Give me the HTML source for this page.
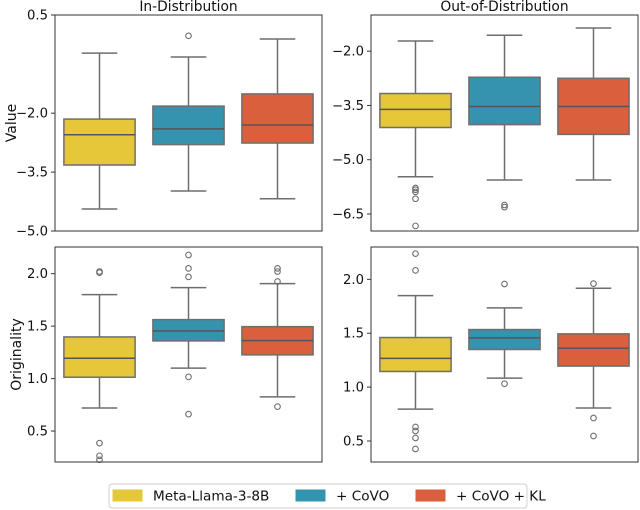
<!DOCTYPE html>
<html><head><meta charset="utf-8"><style>
body{margin:0;background:#fff;}
svg{display:block;font-family:"DejaVu Sans","Liberation Sans",sans-serif;}
</style></head><body>
<svg id="c" width="640" height="510"></svg>
<script>
const groups=["Meta-Llama-3-8B","+ CoVO","+ CoVO + KL"];
const colors=["#e6c73a","#3494b0","#d95f3d"];
// stats: [low whisker, q1, median, q3, high whisker]
const idValue=[[-4.44,-3.32,-2.55,-2.15,-0.47],[-3.98,-2.80,-2.40,-1.82,-0.57],[-4.18,-2.76,-2.30,-1.51,-0.11]];
const idValueOut=[[],[-0.03],[]];
const oodValue=[[-5.47,-4.11,-3.61,-3.17,-1.72],[-5.56,-4.03,-3.53,-2.72,-1.56],[-5.56,-4.30,-3.53,-2.75,-1.36]];
const oodValueOut=[[-5.78,-5.83,-5.89,-6.08,-6.83],[-6.25,-6.31],[]];
const idOrig=[[0.72,1.013,1.194,1.397,1.80],[1.10,1.359,1.454,1.562,1.867],[0.826,1.226,1.362,1.495,1.905]];
const idOrigOut=[[2.02,2.01,0.385,0.264,0.226],[2.178,2.05,1.969,1.016,0.661],[2.05,2.02,1.925,0.733]];
const oodOrig=[[0.796,1.145,1.266,1.46,1.849],[1.083,1.349,1.457,1.534,1.735],[0.806,1.195,1.361,1.494,1.917]];
const oodOrigOut=[[2.238,2.083,0.63,0.593,0.528,0.426],[1.957,1.031],[1.96,0.713,0.546]];
const panels=[
 {name:"in-distribution-value",x0:55,x1:322,y0:15,y1:231,vmin:-5.0,vmax:0.5,ticks:[0.5,-2.0,-3.5,-5.0],dec:1,stats:idValue,out:idValueOut,title:"In-Distribution",ylabel:"Value"},
 {name:"out-of-distribution-value",x0:371,x1:638,y0:15,y1:231,vmin:-6.97,vmax:-1.0,ticks:[-2.0,-3.5,-5.0,-6.5],dec:1,stats:oodValue,out:oodValueOut,title:"Out-of-Distribution"},
 {name:"in-distribution-originality",x0:55,x1:322,y0:247,y1:462,vmin:0.205,vmax:2.254,ticks:[2.0,1.5,1.0,0.5],dec:1,stats:idOrig,out:idOrigOut,ylabel:"Originality"},
 {name:"out-of-distribution-originality",x0:371,x1:638,y0:247,y1:462,vmin:0.305,vmax:2.30,ticks:[2.0,1.5,1.0,0.5],dec:1,stats:oodOrig,out:oodOrigOut}
];
const NS="http://www.w3.org/2000/svg";
const svg=document.getElementById("c");
function mk(tag,attrs,parent,text){const e=document.createElementNS(NS,tag);for(const k in attrs)e.setAttribute(k,attrs[k]);if(text!==undefined)e.textContent=text;(parent||svg).appendChild(e);return e;}
panels.forEach(p=>{
 const g=mk("g",{});
 
 
 const ys=v=>p.y1-(v-p.vmin)/(p.vmax-p.vmin)*(p.y1-p.y0);
 const band=(p.x1-p.x0)/3;
 const xc=i=>p.x0+band*(i+0.5);
 const bw=band*0.8;
 p.stats.forEach((s,i)=>{
  const bg=mk("g",{},g);
  
  
  const c=xc(i);
  mk("line",{x1:c,x2:c,y1:ys(s[0]),y2:ys(s[1]),stroke:"#6e6e6e","stroke-width":1.5},bg);
  mk("line",{x1:c,x2:c,y1:ys(s[3]),y2:ys(s[4]),stroke:"#6e6e6e","stroke-width":1.5},bg);
  mk("line",{x1:c-bw/4,x2:c+bw/4,y1:ys(s[0]),y2:ys(s[0]),stroke:"#6e6e6e","stroke-width":1.5},bg);
  mk("line",{x1:c-bw/4,x2:c+bw/4,y1:ys(s[4]),y2:ys(s[4]),stroke:"#6e6e6e","stroke-width":1.5},bg);
  mk("rect",{x:c-bw/2,y:ys(s[3]),width:bw,height:ys(s[1])-ys(s[3]),fill:colors[i],stroke:"#6e6e6e","stroke-width":1.5},bg);
  mk("line",{x1:c-bw/2,x2:c+bw/2,y1:ys(s[2]),y2:ys(s[2]),stroke:"#555","stroke-width":1.5},bg);
  p.out[i].forEach(v=>{
   const o=mk("circle",{cx:c,cy:ys(v),r:2.8,fill:"none",stroke:"#6e6e6e","stroke-width":1.1},bg);
   
   
  });
 });
 const fr=mk("rect",{x:p.x0,y:p.y0,width:p.x1-p.x0,height:p.y1-p.y0,fill:"none",stroke:"#333","stroke-width":1},g);
 
 
 p.ticks.forEach(t=>{
  const y=ys(t);
  mk("line",{x1:p.x0-4,x2:p.x0,y1:y,y2:y,stroke:"#333","stroke-width":1},g);
  const tl=mk("text",{x:p.x0-7,y:y+4.5,"text-anchor":"end","font-size":13.2,fill:"#111"},g,t.toFixed(p.dec).replace("-","\u2212"));
  
  
 });
 if(p.title){const t=mk("text",{x:(p.x0+p.x1)/2,y:p.y0-4,"text-anchor":"middle","font-size":13.8,fill:"#111"},g,p.title);
  
  }
 if(p.ylabel){const cy=(p.y0+p.y1)/2;const t=mk("text",{x:0,y:0,transform:`translate(${p.ylabel==="Value"?16:21},${cy}) rotate(-90)`,"text-anchor":"middle","font-size":14,fill:"#111"},g,p.ylabel);
  
  }
});
const lg=mk("g",{});


mk("rect",{x:109,y:484,width:418,height:24,rx:3,fill:"#fff",stroke:"#d0d0d0","stroke-width":1},lg);
const lx=[113,296,416];
groups.forEach((n,i)=>{
 const e=mk("g",{},lg);
 
 
 mk("rect",{x:lx[i],y:490,width:29,height:11,fill:colors[i],stroke:colors[i]},e);
 mk("text",{x:lx[i]+40,y:500.5,"font-size":13.6,fill:"#111"},e,n);
});
</script>
</body></html>
